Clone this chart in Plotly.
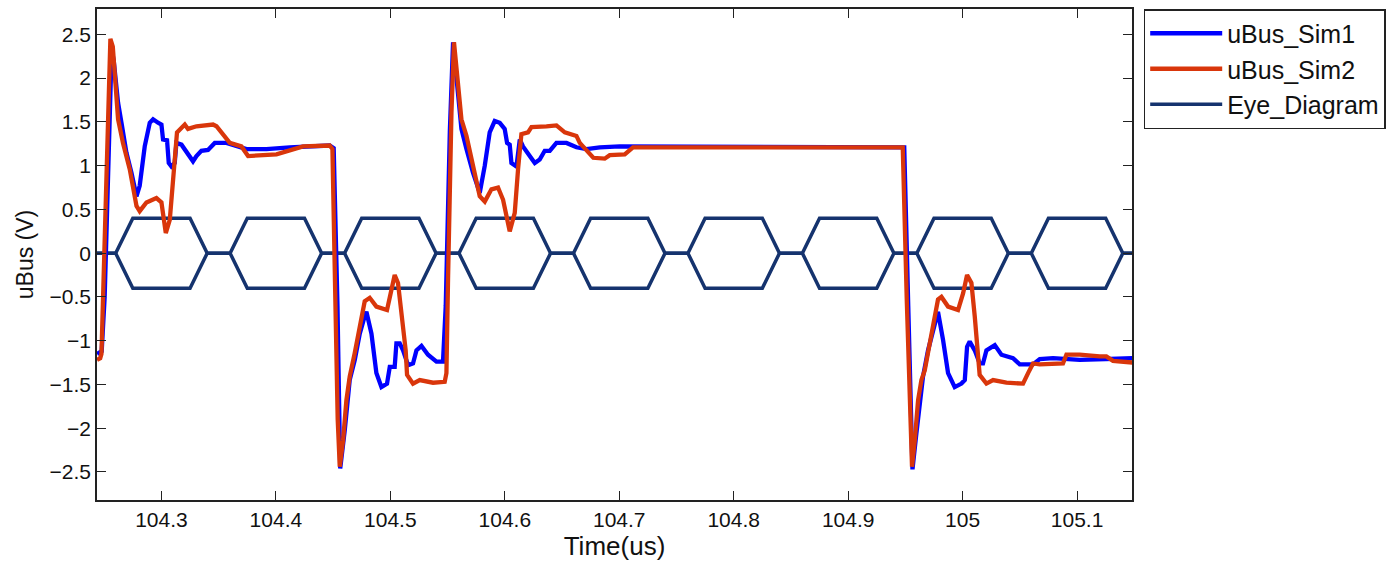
import plotly.graph_objects as go

# ---- data ----
sim1_t = [104.2437, 104.2478, 104.2504, 104.2530, 104.2548, 104.2565, 104.2583, 104.2600, 104.2621, 104.2651,
          104.2694, 104.2738, 104.2782, 104.2810, 104.2854, 104.2898, 104.2927, 104.2970, 104.3000, 104.3014,
          104.3049, 104.3064, 104.3087, 104.3116, 104.3131, 104.3175, 104.3218, 104.3276, 104.3306, 104.3349,
          104.3407, 104.3466, 104.3568, 104.3655, 104.3743, 104.3917, 104.4121, 104.4470, 104.4505, 104.4538,
          104.4553, 104.4562, 104.4602, 104.4630, 104.4645, 104.4689, 104.4733, 104.4776, 104.4791, 104.4835,
          104.4878, 104.4922, 104.4971, 104.4995, 104.5038, 104.5053, 104.5082, 104.5111, 104.5155, 104.5198,
          104.5228, 104.5272, 104.5329, 104.5403, 104.5460, 104.5484, 104.5520, 104.5548, 104.5591, 104.5621,
          104.5665, 104.5722, 104.5781, 104.5825, 104.5868, 104.5912, 104.5956, 104.5999, 104.6020, 104.6043,
          104.6058, 104.6102, 104.6131, 104.6159, 104.6218, 104.6262, 104.6305, 104.6349, 104.6393, 104.6451,
          104.6539, 104.6626, 104.6713, 104.6830, 104.7004, 104.7179, 104.8000, 104.9490, 104.9525, 104.9547,
          104.9562, 104.9596, 104.9625, 104.9654, 104.9698, 104.9742, 104.9785, 104.9829, 104.9873, 104.9931,
          104.9990, 105.0019, 105.0039, 105.0062, 105.0106, 105.0149, 105.0178, 105.0208, 105.0281, 105.0339,
          105.0440, 105.0499, 105.0615, 105.0674, 105.0790, 105.1023, 105.1314, 105.1489]
sim1_v = [-1.15, -1.12, -0.50, 0.80, 1.80, 2.33, 2.20, 1.95, 1.72, 1.49,
          1.15, 0.92, 0.65, 0.77, 1.22, 1.49, 1.53, 1.49, 1.47, 1.30,
          1.29, 1.03, 0.99, 1.03, 1.26, 1.24, 1.15, 1.05, 1.11, 1.17,
          1.18, 1.26, 1.26, 1.22, 1.19, 1.19, 1.21, 1.23, 1.20, -0.60,
          -2.00, -2.46, -2.02, -1.64, -1.45, -1.22, -0.92, -0.72, -0.67, -0.92,
          -1.37, -1.53, -1.49, -1.30, -1.30, -1.03, -1.03, -1.11, -1.28, -1.26,
          -1.11, -1.06, -1.16, -1.24, -1.24, -0.60, 1.40, 2.41, 1.80, 1.42,
          1.19, 0.92, 0.69, 1.00, 1.38, 1.51, 1.49, 1.42, 1.26, 1.24,
          1.03, 0.99, 1.30, 1.22, 1.11, 1.03, 1.07, 1.17, 1.17, 1.26,
          1.26, 1.21, 1.19, 1.21, 1.22, 1.22, 1.21, 1.21, -0.60, -2.00,
          -2.47, -2.06, -1.68, -1.41, -1.11, -0.88, -0.67, -0.99, -1.37, -1.53,
          -1.49, -1.45, -1.07, -1.01, -1.11, -1.26, -1.26, -1.11, -1.05, -1.16,
          -1.20, -1.27, -1.27, -1.21, -1.20, -1.22, -1.20, -1.20]

sim2_t = [104.2437, 104.2465, 104.2476, 104.2496, 104.2519, 104.2535, 104.2554, 104.2575, 104.2592, 104.2621,
          104.2664, 104.2723, 104.2782, 104.2810, 104.2869, 104.2956, 104.3000, 104.3038, 104.3073, 104.3116,
          104.3136, 104.3204, 104.3232, 104.3306, 104.3451, 104.3481, 104.3597, 104.3699, 104.3757, 104.4005,
          104.4150, 104.4237, 104.4470, 104.4494, 104.4519, 104.4540, 104.4558, 104.4587, 104.4616, 104.4645,
          104.4689, 104.4733, 104.4776, 104.4820, 104.4878, 104.4971, 104.5010, 104.5038, 104.5067, 104.5097,
          104.5134, 104.5146, 104.5198, 104.5257, 104.5373, 104.5475, 104.5490, 104.5504, 104.5534, 104.5556,
          104.5591, 104.5621, 104.5665, 104.5722, 104.5781, 104.5825, 104.5883, 104.5941, 104.5985, 104.6043,
          104.6087, 104.6116, 104.6145, 104.6203, 104.6233, 104.6364, 104.6451, 104.6524, 104.6626, 104.6655,
          104.6713, 104.6773, 104.6873, 104.6917, 104.7048, 104.7120, 104.7179, 104.8000, 104.9477, 104.9512,
          104.9540, 104.9558, 104.9582, 104.9611, 104.9640, 104.9669, 104.9713, 104.9742, 104.9785, 104.9815,
          104.9873, 104.9960, 105.0004, 105.0039, 105.0077, 105.0106, 105.0135, 105.0149, 105.0208, 105.0266,
          105.0383, 105.0528, 105.0572, 105.0615, 105.0674, 105.0877, 105.0907, 105.1023, 105.1198, 105.1256,
          105.1314, 105.1489]
sim2_v = [-1.22, -1.20, -1.15, -0.30, 0.61, 1.60, 2.45, 2.36, 2.10, 1.53,
          1.26, 0.96, 0.54, 0.48, 0.58, 0.63, 0.58, 0.23, 0.38, 1.00,
          1.38, 1.47, 1.42, 1.45, 1.47, 1.45, 1.26, 1.22, 1.11, 1.13,
          1.19, 1.22, 1.23, 1.19, -0.50, -1.90, -2.44, -2.14, -1.68, -1.41,
          -1.14, -0.84, -0.55, -0.51, -0.61, -0.65, -0.42, -0.25, -0.34, -0.72,
          -1.11, -1.39, -1.49, -1.45, -1.48, -1.47, -1.37, -0.30, 1.61, 2.41,
          1.91, 1.53, 1.34, 1.00, 0.65, 0.59, 0.73, 0.75, 0.61, 0.25,
          0.46, 0.96, 1.36, 1.38, 1.44, 1.45, 1.46, 1.38, 1.34, 1.26,
          1.17, 1.09, 1.08, 1.12, 1.13, 1.21, 1.21, 1.21, 1.21, -0.53,
          -1.80, -2.44, -2.14, -1.68, -1.45, -1.34, -1.03, -0.80, -0.53, -0.50,
          -0.61, -0.65, -0.46, -0.25, -0.34, -0.72, -1.11, -1.39, -1.49, -1.45,
          -1.48, -1.49, -1.37, -1.26, -1.27, -1.26, -1.16, -1.16, -1.18, -1.18,
          -1.23, -1.25]

eye_t = [104.24, 104.26, 104.275, 104.325, 104.34, 104.36, 104.375, 104.425, 104.44, 104.46,
         104.475, 104.525, 104.54, 104.56, 104.575, 104.625, 104.64, 104.66, 104.675, 104.725,
         104.74, 104.76, 104.775, 104.825, 104.84, 104.86, 104.875, 104.925, 104.94, 104.96,
         104.975, 105.025, 105.04, 105.06, 105.075, 105.125, 105.14, 105.16]
eye_upper = [0, 0, 0.4, 0.4, 0, 0, 0.4, 0.4, 0, 0,
             0.4, 0.4, 0, 0, 0.4, 0.4, 0, 0, 0.4, 0.4,
             0, 0, 0.4, 0.4, 0, 0, 0.4, 0.4, 0, 0,
             0.4, 0.4, 0, 0, 0.4, 0.4, 0, 0]
eye_lower = [0, 0, -0.4, -0.4, 0, 0, -0.4, -0.4, 0, 0,
             -0.4, -0.4, 0, 0, -0.4, -0.4, 0, 0, -0.4, -0.4,
             0, 0, -0.4, -0.4, 0, 0, -0.4, -0.4, 0, 0,
             -0.4, -0.4, 0, 0, -0.4, -0.4, 0, 0]

x_ticks = [104.3, 104.4, 104.5, 104.6, 104.7, 104.8, 104.9, 105.0, 105.1]
x_tick_labels = ["104.3", "104.4", "104.5", "104.6", "104.7", "104.8", "104.9", "105", "105.1"]
y_ticks = [-2.5, -2, -1.5, -1, -0.5, 0, 0.5, 1, 1.5, 2, 2.5]
y_tick_labels = ["\u22122.5", "\u22122", "\u22121.5", "\u22121", "\u22120.5", "0", "0.5", "1", "1.5", "2", "2.5"]

FONT = "Liberation Sans, Arial, sans-serif"
BLUE = "#0000FF"
RED = "#D9360B"
NAVY = "#15336E"

fig = go.Figure()
fig.add_trace(go.Scatter(x=eye_t + [None] + eye_t, y=eye_upper + [None] + eye_lower,
                         mode="lines", name="Eye_Diagram", legendrank=3,
                         line=dict(color=NAVY, width=3.5)))
fig.add_trace(go.Scatter(x=sim1_t, y=sim1_v, mode="lines", name="uBus_Sim1", legendrank=1,
                         line=dict(color=BLUE, width=4.3)))
fig.add_trace(go.Scatter(x=sim2_t, y=sim2_v, mode="lines", name="uBus_Sim2", legendrank=2,
                         line=dict(color=RED, width=4.3)))

axis_common = dict(showline=True, linecolor="#222222", linewidth=1.5, mirror="ticks",
                   ticks="inside", ticklen=9, tickwidth=1.2, tickcolor="#222222",
                   showgrid=False, zeroline=False, automargin=False,
                   tickfont=dict(family=FONT, size=21, color="#111111"))

fig.update_layout(
    width=1389, height=565,
    margin=dict(l=97, r=257, t=9, b=65, autoexpand=False),
    paper_bgcolor="white", plot_bgcolor="white",
    font=dict(family=FONT, color="#111111"),
    xaxis=dict(range=[104.2437, 105.148], tickvals=x_ticks, ticktext=x_tick_labels,
               title=dict(text="Time(us)", font=dict(family=FONT, size=26), standoff=4),
               **axis_common),
    yaxis=dict(range=[-2.82, 2.79], tickvals=y_ticks, ticktext=y_tick_labels,
               title=dict(text="uBus (V)", font=dict(family=FONT, size=23), standoff=10),
               **axis_common),
    legend=dict(x=1.0113, y=1.0, xanchor="left", yanchor="top",
                bgcolor="white", bordercolor="#222222", borderwidth=1.5,
                font=dict(family=FONT, size=25, color="#111111"),
                itemwidth=72, traceorder="normal"),
    showlegend=True,
)

fig.write_html("out.html", config={"displayModeBar": False},
               post_script="document.body.style.margin='0';")
